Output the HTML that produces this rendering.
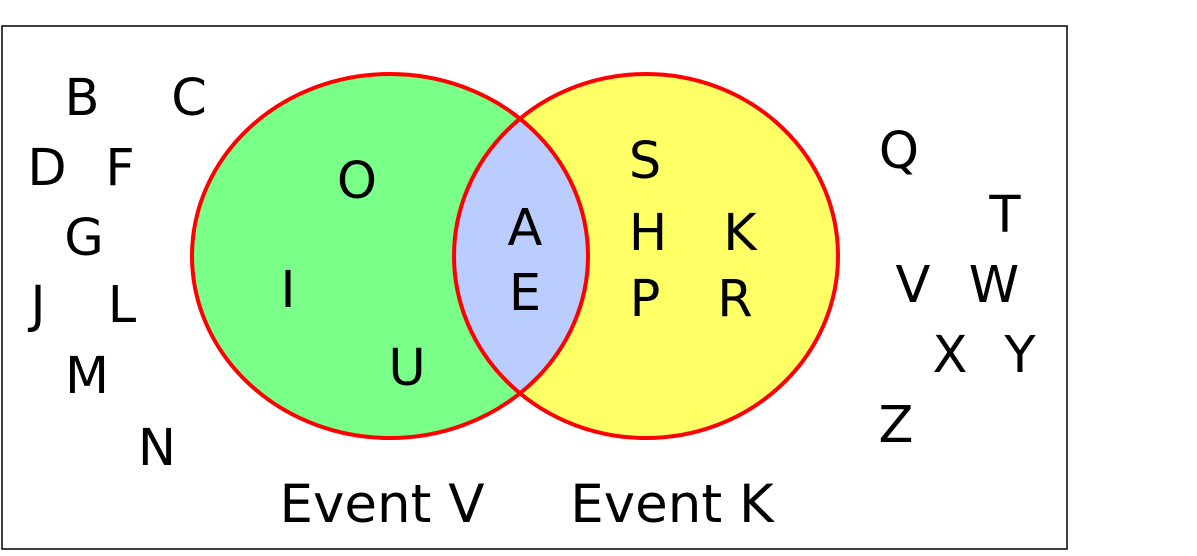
<!DOCTYPE html>
<html><head><meta charset="utf-8"><style>
html,body{margin:0;padding:0;background:#fff;}
svg{display:block;}
text{font-family:"DejaVu Sans","Liberation Sans",sans-serif;font-size:51px;fill:#000;text-anchor:middle;}
text.ev{font-size:53px;}
</style></head><body>
<svg width="1197" height="556" viewBox="0 0 1197 556">
<defs>
<clipPath id="cl"><ellipse cx="390" cy="256" rx="198" ry="182"/></clipPath>
</defs>
<rect x="2" y="26" width="1065" height="523" fill="#fff" stroke="#000" stroke-width="1.5"/>
<ellipse cx="390" cy="256" rx="198" ry="182" fill="#7aff88"/>
<ellipse cx="646" cy="256" rx="192" ry="182" fill="#ffff66"/>
<ellipse cx="646" cy="256" rx="192" ry="182" fill="#bbccff" clip-path="url(#cl)"/>
<ellipse cx="390" cy="256" rx="198" ry="182" fill="none" stroke="#f00" stroke-width="4"/>
<ellipse cx="646" cy="256" rx="192" ry="182" fill="none" stroke="#f00" stroke-width="4"/>
<text x="82" y="115">B</text><text x="189" y="115">C</text>
<text x="47" y="185">D</text><text x="120" y="185">F</text>
<text x="84" y="255">G</text>
<text x="38" y="322">J</text><text x="122" y="322">L</text>
<text x="87" y="393">M</text><text x="157" y="465">N</text>
<text x="357" y="198">O</text><text x="288" y="307">I</text><text x="407" y="385">U</text>
<text x="525" y="245">A</text><text x="525" y="310">E</text>
<text x="645" y="178">S</text><text x="648" y="250">H</text><text x="740" y="250">K</text>
<text x="645" y="316">P</text><text x="735" y="316">R</text>
<text x="899" y="168">Q</text><text x="1005" y="232">T</text>
<text x="913" y="302">V</text><text x="994" y="302">W</text>
<text x="950" y="372">X</text><text x="1020" y="372">Y</text>
<text x="896" y="442">Z</text>
<text class="ev" x="382" y="522">Event V</text><text class="ev" x="672" y="522">Event K</text>
</svg>
</body></html>
